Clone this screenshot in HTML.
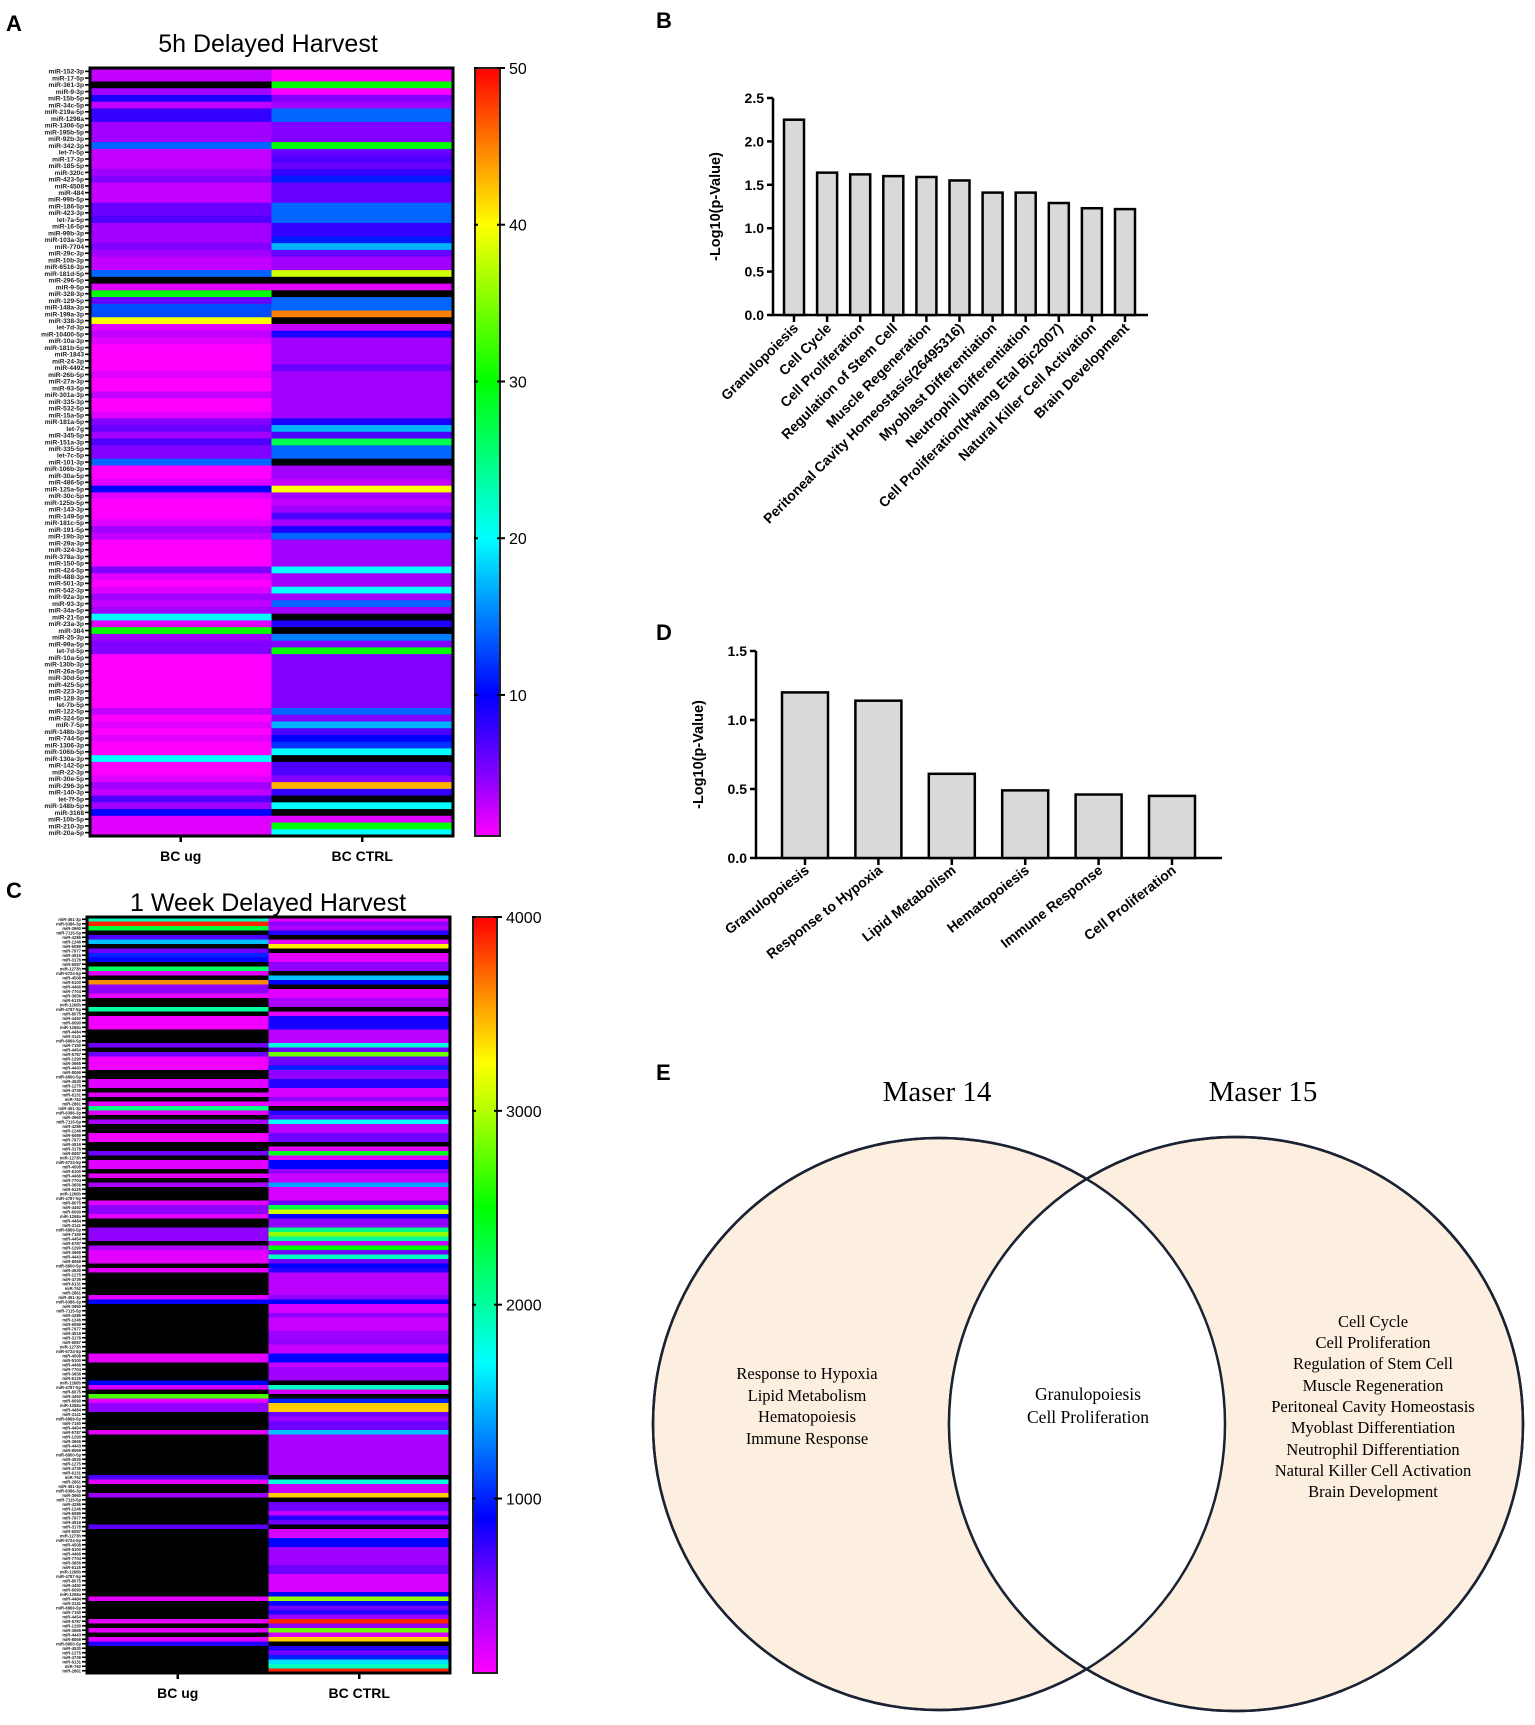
<!DOCTYPE html>
<html><head><meta charset="utf-8"><style>
html,body{margin:0;padding:0;background:#fff}
svg{display:block}
text{font-family:"Liberation Sans",sans-serif}
.serif,.serif text{font-family:"Liberation Serif",serif}
</style></head><body>
<svg id="fig" width="1535" height="1725" viewBox="0 0 1535 1725" xmlns="http://www.w3.org/2000/svg">
<text x="6" y="31" font-size="22" font-weight="bold">A</text>
<text x="6" y="898" font-size="22" font-weight="bold">C</text>
<text x="656" y="28" font-size="22" font-weight="bold">B</text>
<text x="656" y="640" font-size="22" font-weight="bold">D</text>
<text x="656" y="1080" font-size="22" font-weight="bold">E</text>
<text x="268" y="52" font-size="25" text-anchor="middle">5h Delayed Harvest</text>
<text x="268" y="911" font-size="25" text-anchor="middle">1 Week Delayed Harvest</text>
<g id="gA"></g><g id="gC"></g><g id="gB"></g><g id="gD"></g>
<g id="gE">
<circle cx="939" cy="1424" r="286" fill="#fcefdf" stroke="#1a2233" stroke-width="2.5"/>
<circle cx="1236" cy="1424" r="287" fill="#fcefdf" stroke="#1a2233" stroke-width="2.5"/>
<clipPath id="clipL"><circle cx="939" cy="1424" r="286"/></clipPath>
<circle cx="1236" cy="1424" r="287" fill="#fff" clip-path="url(#clipL)"/>
<circle cx="939" cy="1424" r="286" fill="none" stroke="#1a2233" stroke-width="2.5"/>
<circle cx="1236" cy="1424" r="287" fill="none" stroke="#1a2233" stroke-width="2.5"/>
<text class="serif" x="937" y="1101" font-size="29" text-anchor="middle">Maser 14</text>
<text class="serif" x="1263" y="1101" font-size="29" text-anchor="middle">Maser 15</text>
<g class="serif" font-size="16.5" text-anchor="middle">
<text x="807" y="1379">Response to Hypoxia</text><text x="807" y="1401">Lipid Metabolism</text><text x="807" y="1422">Hematopoiesis</text><text x="807" y="1444">Immune Response</text></g>
<g class="serif" font-size="17.5" text-anchor="middle">
<text x="1088" y="1400">Granulopoiesis</text><text x="1088" y="1423">Cell Proliferation</text></g>
<g class="serif" font-size="16.5" text-anchor="middle">
<text x="1373" y="1327">Cell Cycle</text><text x="1373" y="1348">Cell Proliferation</text><text x="1373" y="1369">Regulation of Stem Cell</text><text x="1373" y="1391">Muscle Regeneration</text><text x="1373" y="1412">Peritoneal Cavity Homeostasis</text><text x="1373" y="1433">Myoblast Differentiation</text><text x="1373" y="1455">Neutrophil Differentiation</text><text x="1373" y="1476">Natural Killer Cell Activation</text><text x="1373" y="1497">Brain Development</text></g>
</g>
</svg>
<script>
const N=null;
const aLabels=["miR-152-3p","miR-17-5p","miR-361-3p","miR-9-3p","miR-15b-5p","miR-34c-5p","miR-219a-5p","miR-1298a","miR-1306-5p","miR-195b-5p","miR-92b-3p","miR-342-3p","let-7i-5p","miR-17-3p","miR-185-5p","miR-320c","miR-423-5p","miR-4508","miR-484","miR-99b-5p","miR-186-5p","miR-423-3p","let-7a-5p","miR-16-5p","miR-99b-3p","miR-103a-3p","miR-7704","miR-29c-3p","miR-10b-3p","miR-6516-3p","miR-181d-5p","miR-296-5p","miR-9-5p","miR-328-3p","miR-129-5p","miR-148a-3p","miR-199a-3p","miR-338-3p","let-7d-3p","miR-10400-5p","miR-10a-3p","miR-181b-5p","miR-1843","miR-24-3p","miR-4492","miR-26b-5p","miR-27a-3p","miR-93-5p","miR-301a-3p","miR-335-3p","miR-532-5p","miR-15a-5p","miR-181a-5p","let-7g","miR-345-5p","miR-151a-3p","miR-335-5p","let-7c-5p","miR-101-3p","miR-106b-3p","miR-30a-5p","miR-486-5p","miR-125a-5p","miR-30c-5p","miR-125b-5p","miR-143-3p","miR-149-5p","miR-181c-5p","miR-191-5p","miR-19b-3p","miR-29a-3p","miR-324-3p","miR-378a-3p","miR-150-5p","miR-424-5p","miR-488-3p","miR-501-3p","miR-542-3p","miR-92a-3p","miR-93-3p","miR-34a-5p","miR-21-5p","miR-23a-3p","miR-384","miR-25-3p","miR-99a-5p","let-7d-5p","miR-10a-5p","miR-130b-3p","miR-26a-5p","miR-30d-5p","miR-425-5p","miR-223-3p","miR-128-3p","let-7b-5p","miR-122-5p","miR-324-5p","miR-7-5p","miR-148b-3p","miR-744-5p","miR-1306-3p","miR-106b-5p","miR-130a-3p","miR-142-5p","miR-22-3p","miR-30e-5p","miR-296-3p","miR-140-3p","let-7f-5p","miR-148b-5p","miR-3168","miR-10b-5p","miR-210-3p","miR-20a-5p"];
const aUg=[3,3,N,4,9,3,8,8,4,4,4,14,3,3,3,4,5,3,3,3,6,6,7,4,4,4,5,4,3,3,14,N,2,30,6,13,13,40,2,3,2,1,1,1,1,2,1,1,3,1,1,2,5,6,4,7,5,5,14,1,1,2,10,2,1,1,1,2,4,3,1,1,1,1,5,2,1,2,4,3,4,20,2,30,4,5,5,1,1,1,1,1,1,1,1,3,1,2,1,2,1,1,20,1,1,2,4,3,7,4,10,2,2,2];
const aCtrl=[1,1,30,1,5,4,14,14,5,5,5,30,6,7,6,8,11,6,6,6,14,14,14,8,8,11,17,6,4,4,38,N,2,N,14,14,45,N,3,9,4,4,4,4,6,4,4,4,4,4,4,4,9,17,7,27,14,14,N,4,4,3,40,4,3,4,7,4,9,14,4,4,4,4,20,4,4,20,4,14,4,N,9,N,15,5,30,5,5,5,5,5,5,5,5,14,5,17,7,10,12,20,N,7,7,5,43,8,N,20,N,2,30,20];
const aTicks=[10,20,30,40,50];
const cLabels=["miR-451-3p","miR-6386-3p","miR-3960","miR-7115-5p","miR-4286","miR-1246","miR-6089","miR-7977","miR-4516","miR-3178","miR-6087","miR-1273h","miR-6724-5p","miR-4508","miR-5100","miR-4466","miR-7704","miR-3656","miR-6125","miR-1260b","miR-4787-5p","miR-8075","miR-4492","miR-6090","miR-1268a","miR-4484","miR-3141","miR-6869-5p","miR-7150","miR-4454","miR-5787","miR-1290","miR-3665","miR-4443","miR-8069","miR-6800-5p","miR-4530","miR-1275","miR-4739","miR-6131","miR-762","miR-2861"];
const cUg=[1900,3900,2300,N,700,1500,N,600,1000,900,N,2200,200,N,3600,500,500,200,N,N,2000,N,150,150,150,N,N,N,600,N,600,150,150,150,N,N,200,200,N,200,N,200,2100,200,N,400,N,N,150,150,N,N,600,N,200,200,N,200,N,400,N,N,N,200,500,500,200,N,N,500,500,500,N,400,200,200,200,N,200,N,N,N,N,N,200,900,
N,N,N,N,N,N,N,N,N,N,N,200,200,N,N,N,N,900,250,N,2700,200,500,500,N,N,N,N,200,N,N,N,N,N,N,N,N,N,700,200,N,N,450,N,N,N,N,N,N,650,N,N,N,N,N,N,N,N,N,N,N,N,N,N,N,200,N,N,N,N,200,N,200,N,200,800,N,N,N,N,N,N];
const cCtrl=[200,500,400,800,N,200,3300,N,200,200,500,500,N,1500,900,N,200,200,400,400,N,200,850,850,850,350,350,350,1800,600,2800,600,600,1000,500,500,800,800,250,250,500,200,N,800,600,1700,350,350,600,600,N,200,2400,200,900,900,500,300,300,1400,250,250,250,600,2300,3100,900,500,500,2100,2900,2000,300,2500,600,1900,600,900,800,350,350,350,350,350,500,900,
250,250,500,300,300,300,450,450,500,300,300,900,900,300,450,450,450,N,1900,250,N,1000,3400,3400,600,450,600,600,1500,400,400,400,400,400,400,400,400,400,N,1800,300,300,3400,N,600,600,300,800,600,N,250,250,900,900,450,450,450,450,600,600,250,250,250,250,900,2900,900,600,800,450,3900,500,2800,250,3400,N,800,600,1000,1600,1900,3900];
const cTicks=[1000,2000,3000,4000];
const bCats=["Granulopoiesis","Cell Cycle","Cell Proliferation","Regulation of Stem Cell","Muscle Regeneration","Peritoneal Cavity Homeostasis(26495316)","Myoblast Differentiation","Neutrophil Differentiation","Cell Proliferation(Hwang Etal Bjc2007)","Natural Killer Cell Activation","Brain Development"];
const bVals=[2.25,1.64,1.62,1.60,1.59,1.55,1.41,1.41,1.29,1.23,1.22];
const bTicks=[0,0.5,1,1.5,2,2.5];
const dCats=["Granulopoiesis","Response to Hypoxia","Lipid Metabolism","Hematopoiesis","Immune Response","Cell Proliferation"];
const dVals=[1.20,1.14,0.61,0.49,0.46,0.45];
const dTicks=[0,0.5,1,1.5];

const NS="http://www.w3.org/2000/svg";
function mk(tag,attrs,parent){const e=document.createElementNS(NS,tag);for(const k in attrs)e.setAttribute(k,attrs[k]);parent.appendChild(e);return e;}
function lerpStops(stops,v){
  if(v<=stops[0][0])return stops[0][1];
  for(let i=1;i<stops.length;i++){if(v<=stops[i][0]){const a=stops[i-1],b=stops[i],t=(v-a[0])/(b[0]-a[0]);
    return a[1].map((c,j)=>Math.round(c+(b[1][j]-c)*t));}}
  return stops[stops.length-1][1];
}
const stopsA=[[1,[255,0,255]],[5,[130,0,255]],[10,[0,0,255]],[15,[0,128,255]],[20,[0,255,255]],[25,[0,255,128]],[30,[0,255,0]],[40,[255,255,0]],[45,[255,128,0]],[50,[255,0,0]]];
const stopsC=[[100,[255,0,255]],[550,[130,0,255]],[900,[0,0,255]],[1300,[0,130,255]],[1700,[0,255,255]],[2000,[0,255,160]],[2500,[0,255,0]],[3000,[180,255,0]],[3250,[255,255,0]],[3600,[255,140,0]],[4000,[255,0,0]]];
function rgb(c){return "rgb("+c.join(",")+")";}

function heatmap(g,box,labels,col1,col2,stops,vmin,vmax,ticks,labFont,labelY){
  const n=col1.length, rh=(box.b-box.t)/n, mid=(box.l+box.r)/2;
  mk("rect",{x:box.l,y:box.t,width:box.r-box.l,height:box.b-box.t,fill:"#000"},g);
  [col1,col2].forEach((col,ci)=>{
    col.forEach((v,i)=>{
      const r=mk("rect",{x:ci?mid:box.l,y:box.t+i*rh,width:mid-box.l+0.3,height:rh+0.4,fill:v===null?"#000":rgb(lerpStops(stops,v))},g);
      
      
    });
  });
  mk("rect",{x:box.l,y:box.t,width:box.r-box.l,height:box.b-box.t,fill:"none",stroke:"#000","stroke-width":3},g);
  for(let i=0;i<n;i++){
    const y=box.t+(i+0.5)*rh;
    mk("line",{x1:box.l-5,x2:box.l,y1:y,y2:y,stroke:"#000","stroke-width":Math.min(1.6,rh*0.5)},g);
    const t=mk("text",{x:box.l-6,y:y+labFont*0.36,"font-size":labFont,"text-anchor":"end",fill:"#222","font-weight":"bold"},g);
    t.textContent=labels[i%labels.length];
    
    
  }
  const q1=(box.l+mid)/2,q2=(mid+box.r)/2;
  [["BC ug",q1],["BC CTRL",q2]].forEach(([s,x])=>{
    mk("line",{x1:x,x2:x,y1:box.b,y2:box.b+6,stroke:"#000","stroke-width":2.5},g);
    const t=mk("text",{x:x,y:labelY,"font-size":14,"font-weight":"bold","text-anchor":"middle"},g);
    t.textContent=s;
    
    
  });
  const cb=box.cb, id="grad"+g.id;
  const grad=mk("linearGradient",{id:id,x1:0,y1:1,x2:0,y2:0},mk("defs",{},g));
  stops.forEach(s=>{mk("stop",{offset:Math.max(0,(s[0]-vmin)/(vmax-vmin)),"stop-color":rgb(s[1])},grad);});
  const bar=mk("rect",{x:cb.l,y:box.t,width:cb.r-cb.l,height:box.b-box.t,fill:"url(#"+id+")",stroke:"#222","stroke-width":2},g);
  
  
  ticks.forEach(v=>{
    const y=box.b-(v-vmin)/(vmax-vmin)*(box.b-box.t);
    mk("line",{x1:cb.r-3,x2:cb.r+5,y1:y,y2:y,stroke:"#000","stroke-width":2},g);
    mk("line",{x1:cb.l-1,x2:cb.l+3,y1:y,y2:y,stroke:"#000","stroke-width":2},g);
    const t=mk("text",{x:cb.r+9,y:y+6,"font-size":16},g);
    t.textContent=v;
    
    
  });
}
const gA=document.getElementById("gA");


heatmap(gA,{l:90,r:453,t:68,b:836,cb:{l:475,r:500}},aLabels,aUg,aCtrl,stopsA,1,50,aTicks,6.6,861);
const gC=document.getElementById("gC");


heatmap(gC,{l:87,r:450,t:917,b:1673,cb:{l:473,r:497}},cLabels,cUg,cCtrl,stopsC,100,4000,cTicks,4.2,1698);

function barchart(g,ax,cats,vals,ticks,vmax,rot,lfs){
  const ys=v=>ax.y0-(v/vmax)*(ax.y0-ax.ytop);
  mk("line",{x1:ax.x,x2:ax.x,y1:ax.ytop,y2:ax.y0+1,stroke:"#000","stroke-width":2.5},g);
  mk("line",{x1:ax.x-1,x2:ax.xend,y1:ax.y0,y2:ax.y0,stroke:"#000","stroke-width":2.5},g);
  ticks.forEach(v=>{
    const y=ys(v);
    mk("line",{x1:ax.x-6,x2:ax.x,y1:y,y2:y,stroke:"#000","stroke-width":2.5},g);
    const t=mk("text",{x:ax.x-9,y:y+5,"font-size":14,"font-weight":"bold","text-anchor":"end"},g);
    t.textContent=v.toFixed(1);
    
    
  });
  const yt=mk("text",{x:0,y:0,"font-size":14.5,"font-weight":"bold","text-anchor":"middle",transform:`translate(${ax.titleX},${(ax.ytop+ax.y0)/2}) rotate(-90)`},g);
  yt.textContent="-Log10(p-Value)";
  
  
  vals.forEach((v,i)=>{
    const cx=ax.c0+i*ax.step;
    const b=mk("rect",{x:cx-ax.bw/2,y:ys(v),width:ax.bw,height:ax.y0-ys(v),fill:"#d9d9d9",stroke:"#000","stroke-width":2.5},g);
    
    
    mk("line",{x1:cx,x2:cx,y1:ax.y0,y2:ax.y0+7,stroke:"#000","stroke-width":2.5},g);
    const t=mk("text",{x:0,y:0,"font-size":lfs,"font-weight":"bold","text-anchor":"end",transform:`translate(${cx+5},${ax.y0+14}) rotate(${rot})`},g);
    t.textContent=cats[i];
    
    
  });
}
const gB=document.getElementById("gB");


barchart(gB,{x:773,xend:1148,y0:315,ytop:98,c0:794,step:33.1,bw:20,titleX:720},bCats,bVals,bTicks,2.5,-45,14);
const gD=document.getElementById("gD");


barchart(gD,{x:756,xend:1222,y0:858,ytop:651,c0:805,step:73.4,bw:46,titleX:703},dCats,dVals,dTicks,1.5,-38,14);
</script>
</body></html>
